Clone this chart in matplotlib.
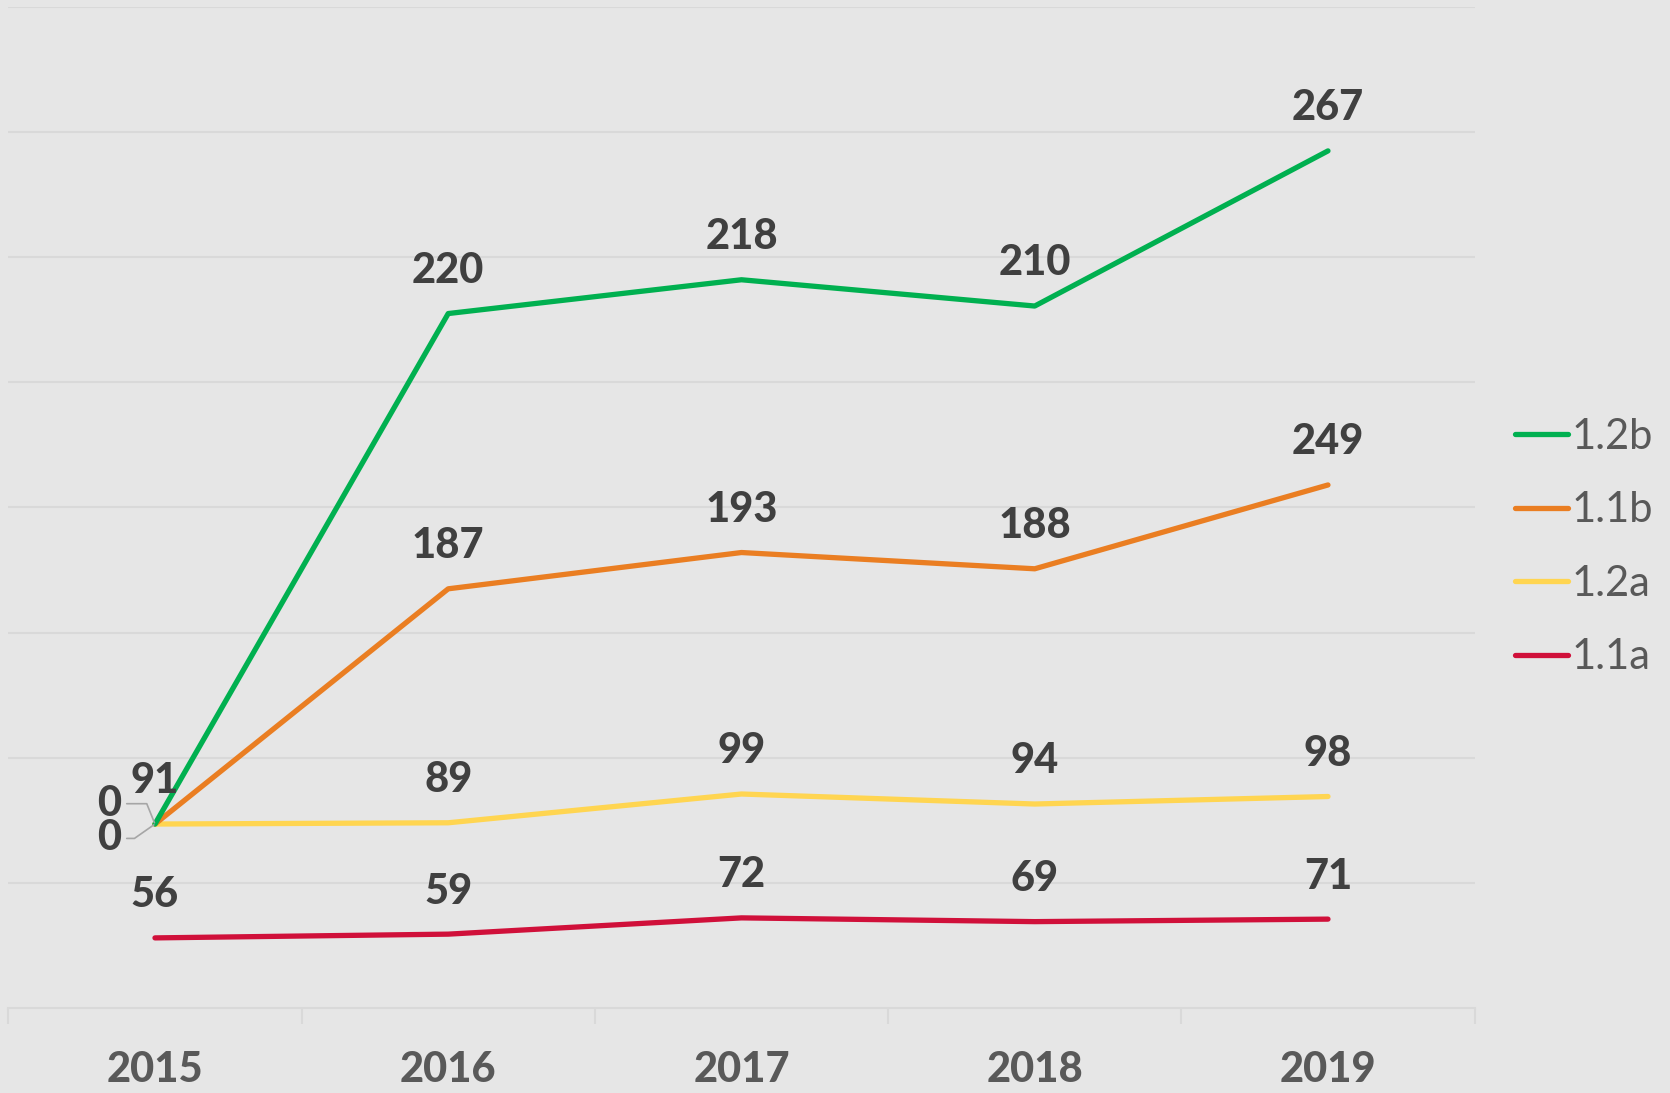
import matplotlib
matplotlib.use("Agg")
import matplotlib.pyplot as plt
import numpy as np

years = ["2015", "2016", "2017", "2018", "2019"]
s_11a = [56, 59, 72, 69, 71]
s_12a = [91, 89, 99, 94, 98]
s_11b = [0, 187, 193, 188, 249]
s_12b = [0, 220, 218, 210, 267]

series_names = ["1.1a", "1.2a", "1.1b", "1.2b"]
series_vals = [s_11a, s_12a, s_11b, s_12b]
series_colors = ["#D0103A", "#FFD551", "#EA7E22", "#00B050"]

plt.rcParams["font.family"] = ["Lato", "DejaVu Sans"]
bg = "#E6E6E6"
grid_c = "#D9D9D9"

fig = plt.figure(figsize=(16.7, 10.93), dpi=100, facecolor=bg)
ax = fig.add_axes([0.005, 0.0778, 0.878, 0.9158], facecolor=bg)

x = np.arange(len(years))
stacked = np.cumsum(np.array(series_vals), axis=0)

lines = {}
for name, vals, cum, col in zip(series_names, series_vals, stacked, series_colors):
    ln, = ax.plot(x, cum, color=col, lw=3.8, solid_capstyle="round", label=name, zorder=3)
    lines[name] = ln
    for i, (v, c) in enumerate(zip(vals, cum)):
        if i == 0 and name in ("1.1b", "1.2b"):
            # collapsed zero labels at 2015 get leader lines
            dy = 6 if name == "1.2b" else -19
            angB = 112 if name == "1.2b" else 215
            ax.annotate(str(v), xy=(i, c), xytext=(-33, dy), textcoords="offset points",
                        ha="center", va="baseline", fontsize=30, fontweight="black",
                        color="#404040", zorder=5,
                        arrowprops=dict(arrowstyle="-", color="#A6A6A6", lw=1.2,
                                        shrinkA=2, shrinkB=1,
                                        connectionstyle="angle,angleA=0,angleB=%d,rad=0" % angB))
            continue
        ax.annotate(str(v), xy=(i, c), xytext=(0, 22), textcoords="offset points",
                    ha="center", va="baseline", fontsize=30, fontweight="black",
                    color="#404040", zorder=5)

ax.set_xlim(-0.5, len(years) - 0.5)
ax.set_ylim(0, 800)
ax.set_yticks(np.arange(100, 801, 100))
ax.yaxis.grid(True, color=grid_c, lw=1.5)
ax.tick_params(axis="y", left=False, labelleft=False)
ax.set_axisbelow(True)

ax.set_xticks(x)
ax.set_xticklabels(years, fontsize=30, fontweight="black", color="#595959")
ax.set_xticks(np.arange(-0.5, len(years), 1), minor=True)
ax.tick_params(axis="x", which="major", length=0, pad=31)
ax.tick_params(axis="x", which="minor", length=11.5, width=1.5, color=grid_c)

for sp in ["top", "left", "right"]:
    ax.spines[sp].set_visible(False)
ax.spines["bottom"].set_color(grid_c)
ax.spines["bottom"].set_linewidth(1.5)

order = ["1.2b", "1.1b", "1.2a", "1.1a"]
leg = fig.legend([lines[n] for n in order], order, loc="center left",
                 bbox_to_anchor=(0.885, 0.4995), frameon=False, fontsize=30,
                 handlelength=1.25, handletextpad=0.1, labelspacing=0.85,
                 labelcolor="#595959")

fig.savefig("out.png", dpi=100, facecolor=bg)
